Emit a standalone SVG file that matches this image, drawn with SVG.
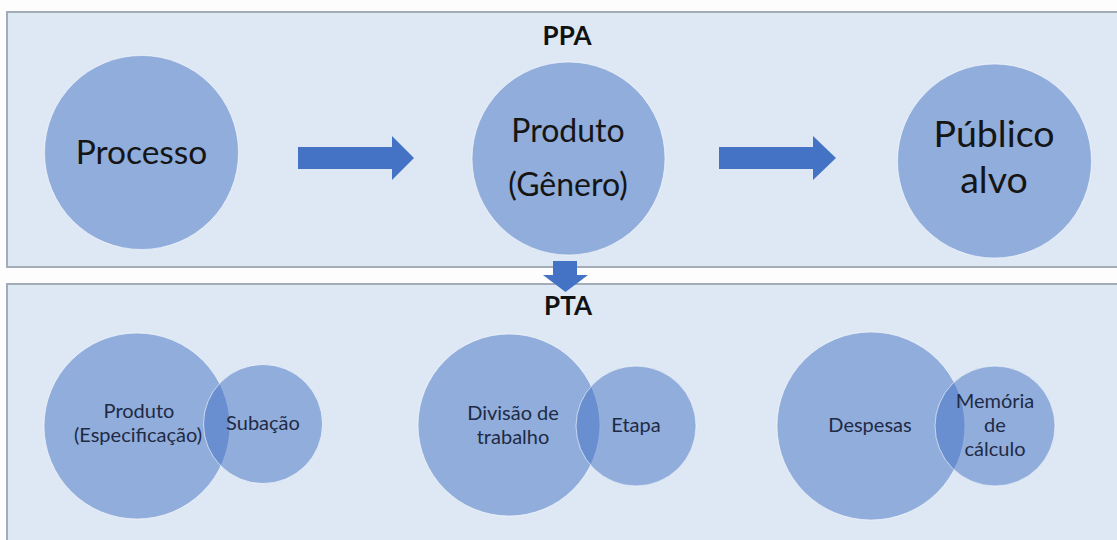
<svg xmlns="http://www.w3.org/2000/svg" width="1117" height="540" viewBox="0 0 1117 540">
  <style>
    .panel { fill: #dde8f4; stroke: #a3adb8; stroke-width: 2; }
    .c { fill: #4472c4; fill-opacity: 0.5; stroke: #ffffff; stroke-opacity: 0.6; stroke-width: 1; }
    .arrow { fill: #4472c4; }
    .big { font-family: Lato, "Liberation Sans", sans-serif; font-size: 32px; fill: #151515; text-anchor: middle; }
    .small { font-family: Lato, "Liberation Sans", sans-serif; font-size: 20px; fill: #1f2a44; text-anchor: middle; }
    .title { font-family: Lato, "Liberation Sans", sans-serif; font-size: 26px; font-weight: bold; fill: #111111; text-anchor: middle; }
  </style>
  <rect x="0" y="0" width="1117" height="540" fill="#fdfdfd"/>
  <g id="ppa-panel">
    <rect class="panel" x="7" y="12" width="1120" height="255"/>
    <text class="title" x="567" y="45">PPA</text>
  </g>
  <g id="pta-panel">
    <rect class="panel" x="7" y="284" width="1120" height="270"/>
    <text class="title" x="568" y="315">PTA</text>
  </g>
  <g id="processo">
    <circle class="c" cx="141.5" cy="152.5" r="97"/>
    <text class="big" x="141.5" y="164" style="font-size:33.5px">Processo</text>
  </g>
  <g id="produto-genero">
    <circle class="c" cx="568.5" cy="158.5" r="96.5"/>
    <text class="big" x="568" y="142">Produto</text>
    <text class="big" x="568" y="196">(Gênero)</text>
  </g>
  <g id="publico-alvo">
    <circle class="c" cx="994.5" cy="161" r="97"/>
    <text class="big" x="994" y="147" style="font-size:37.5px">Público</text>
    <text class="big" x="994" y="193" style="font-size:37.5px">alvo</text>
  </g>
  <g id="produto-especificacao">
    <circle class="c" cx="137" cy="426" r="93"/>
    <text class="small" x="139" y="418">Produto</text>
    <text class="small" x="138" y="442">(Especificação)</text>
  </g>
  <g id="subacao">
    <circle class="c" cx="263" cy="424" r="59.5"/>
    <text class="small" x="263" y="430">Subação</text>
  </g>
  <g id="divisao-trabalho">
    <circle class="c" cx="509" cy="425" r="91"/>
    <text class="small" x="513" y="420">Divisão de</text>
    <text class="small" x="513" y="444">trabalho</text>
  </g>
  <g id="etapa">
    <circle class="c" cx="636" cy="426" r="60"/>
    <text class="small" x="636" y="432">Etapa</text>
  </g>
  <g id="despesas">
    <circle class="c" cx="871" cy="426" r="94"/>
    <text class="small" x="870" y="432">Despesas</text>
  </g>
  <g id="memoria-calculo">
    <circle class="c" cx="995" cy="426" r="60"/>
    <text class="small" x="995" y="408">Memória</text>
    <text class="small" x="995" y="432">de</text>
    <text class="small" x="995" y="456">cálculo</text>
  </g>
  <g id="connectors">
    <polygon class="arrow" points="298,147 392,147 392,136 414,158 392,180 392,169 298,169"/>
    <polygon class="arrow" points="719,147 813,147 813,136 836,158 813,180 813,169 719,169"/>
    <polygon class="arrow" points="553,261 577,261 577,275 588,275 565.5,292 543,275 553,275"/>
  </g>
</svg>
